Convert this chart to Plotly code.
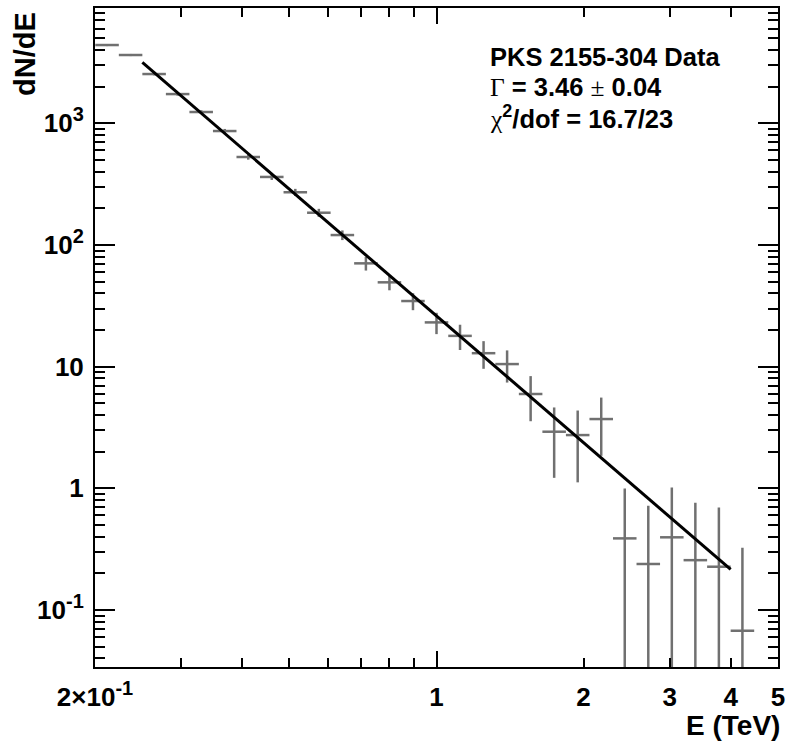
import numpy as np
import plotly.graph_objects as go

# ---------------- data ----------------
# log-spaced energy bin edges (TeV)
bin_edges = [0.20027, 0.22376, 0.25, 0.27932, 0.31209, 0.34869, 0.38958, 0.43528,
             0.48633, 0.54337, 0.60710, 0.67831, 0.75786, 0.84674, 0.94605, 1.05701,
             1.18098, 1.31950, 1.47426, 1.64717, 1.84035, 2.05620, 2.29736, 2.56681,
             2.86785, 3.20420, 3.58001, 4.0, 4.46917]
dnde = [4393, 3637, 2537, 1737, 1237, 863, 528, 362, 271, 184, 120.6, 70.6, 49.3,
        34.6, 23.1, 17.9, 12.9, 10.5, 5.96, 2.92, 2.74, 3.71, 0.388, 0.239, 0.396,
        0.257, 0.227, 0.0676]
dnde_err = [88, 73, 63, 52, 43, 35, 26, 20, 18, 14, 11, 9, 6.9, 5.5, 4.6, 4.2, 3.3,
            3.1, 2.4, 1.7, 1.62, 1.86, 0.61, 0.48, 0.62, 0.505, 0.47, 0.258]

# power-law fit
fit_norm = 26.1        # dN/dE at 1 TeV
fit_index = 3.46
fit_range = [0.25, 4.0]

SUP = "<sup><span style='font-size:20px'>{}</span></sup>"
x_ticks = [0.2, 1, 2, 3, 4, 5]
x_ticktext = ["2\u00d710" + SUP.format("-1"), "1", "2", "3", "4", "5"]
x_minor = [0.3, 0.4, 0.5, 0.6, 0.7, 0.8, 0.9]
y_ticks = [0.1, 1, 10, 100, 1000]
y_ticktext = ["10" + SUP.format("-1"), "1", "10", "10" + SUP.format("2"), "10" + SUP.format("3")]

# ---------------- derived ----------------
edges = np.array(bin_edges)
lo, hi = edges[:-1], edges[1:]
xc = np.sqrt(lo * hi)
y = np.array(dnde)
ey = np.array(dnde_err)
ey_minus = np.minimum(ey, 0.999 * y)

y_minor = [m * 10.0 ** d for d in range(-2, 4) for m in range(2, 10)]
y_minor = [v for v in y_minor if 0.034 < v < 8900]

fx = np.array(fit_range)
fy = fit_norm * fx ** (-fit_index)

gray = "rgb(112,112,112)"
FONT = "Liberation Sans, Arial, Helvetica, sans-serif"

fig = go.Figure()
fig.add_trace(go.Scatter(
    x=xc, y=y, mode="markers",
    marker=dict(size=1, color=gray, opacity=0),
    error_x=dict(type="data", symmetric=False, array=hi - xc, arrayminus=xc - lo,
                 color=gray, thickness=2.5, width=0),
    error_y=dict(type="data", symmetric=False, array=ey, arrayminus=ey_minus,
                 color=gray, thickness=2.5, width=0),
    showlegend=False, hoverinfo="skip"))
fig.add_trace(go.Scatter(x=fx, y=fy, mode="lines",
                         line=dict(color="black", width=3), showlegend=False))
fig.add_trace(go.Scatter(x=[], y=[], xaxis="x2", showlegend=False))

xr = [np.log10(0.2), np.log10(5)]
yr = [-1.468, 3.947]

fig.update_layout(
    width=789, height=748,
    margin=dict(l=95, r=11, t=8, b=81),
    paper_bgcolor="white", plot_bgcolor="white",
    font=dict(family=FONT, size=26, color="black", weight="bold"),
    xaxis=dict(type="log", range=xr, showgrid=False, zeroline=False, automargin=False,
               showline=True, linecolor="black", linewidth=2, mirror="ticks",
               ticks="inside", ticklen=9, tickwidth=1.5, tickcolor="black",
               tickvals=x_ticks, ticktext=x_ticktext, ticklabelstandoff=6,
               tickfont=dict(family=FONT, size=26, weight="bold"),
               minor=dict(tickvals=x_minor, ticks="inside", ticklen=9,
                          tickwidth=1.5, tickcolor="black")),
    xaxis2=dict(type="log", range=xr, overlaying="x", showgrid=False, zeroline=False,
                automargin=False,
                showline=False, mirror="ticks", ticks="inside", ticklen=16,
                tickwidth=1.5, tickcolor="black", tickvals=[1],
                showticklabels=False),
    yaxis=dict(type="log", range=yr, showgrid=False, zeroline=False, automargin=False,
               showline=True, linecolor="black", linewidth=2, mirror="ticks",
               ticks="inside", ticklen=20, tickwidth=1.5, tickcolor="black",
               tickvals=y_ticks, ticktext=y_ticktext, ticklabelstandoff=4,
               tickfont=dict(family=FONT, size=26, weight="bold"),
               minor=dict(tickvals=y_minor, ticks="inside", ticklen=10,
                          tickwidth=1.5, tickcolor="black")),
)

ann = [
    ("PKS 2155-304 Data", 0.9256),
    ("<span style='font-family:Liberation Serif;font-weight:normal'>\u0393</span> = 3.46 "
     "<span style='font-family:Liberation Serif;font-weight:normal'>\u00b1</span> 0.04", 0.8794),
    ("<span style='font-family:Liberation Serif;font-weight:normal'>\u03c7</span>"
     "<sup><span style='font-size:18px'>2</span></sup>/dof = 16.7/23", 0.8334),
]
for txt, yy in ann:
    fig.add_annotation(x=0.575, y=yy, xref="paper", yref="paper", text=txt,
                       showarrow=False, xanchor="left", yanchor="middle",
                       font=dict(family=FONT, size=25.5, weight="bold"))

fig.add_annotation(x=-0.1025, y=0.997, xref="paper", yref="paper", text="dN/dE",
                   textangle=-90, showarrow=False, xanchor="center", yanchor="top",
                   font=dict(family=FONT, size=29, weight="bold"))
fig.add_annotation(x=1.006, y=-0.089, xref="paper", yref="paper", text="E (TeV)",
                   showarrow=False, xanchor="right", yanchor="middle",
                   font=dict(family=FONT, size=28, weight="bold"))

fig.write_html("out.html", config={"displayModeBar": False},
               post_script="document.body.style.margin='0';document.body.style.overflow='hidden';")
